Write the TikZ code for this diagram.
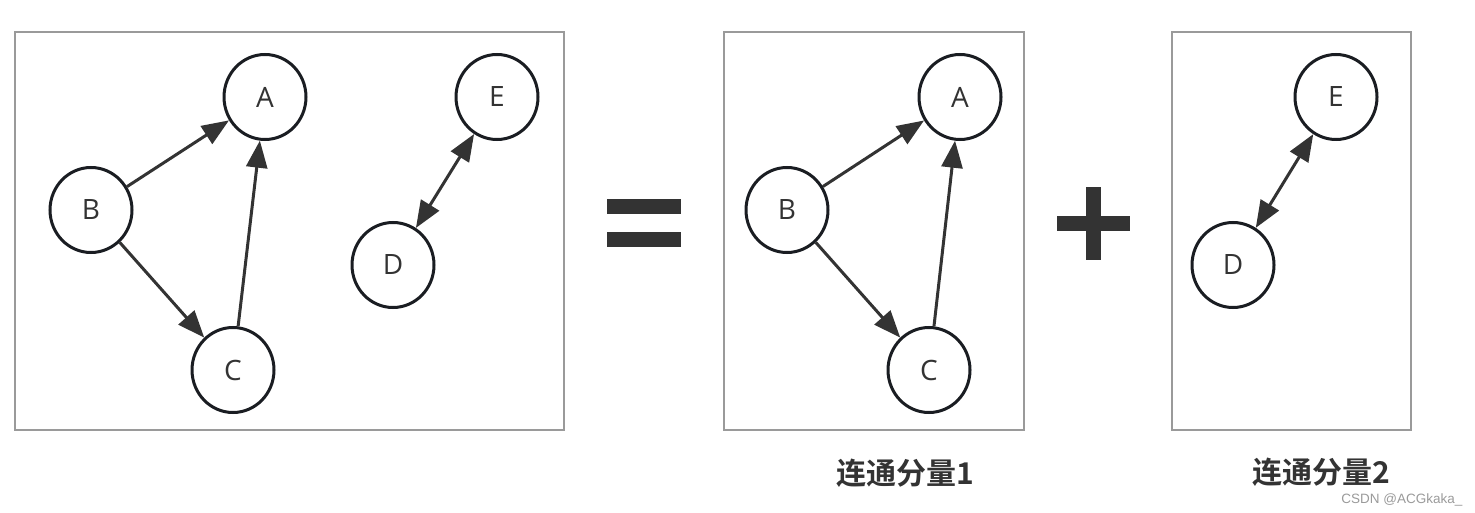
\documentclass[tikz,border=0pt]{standalone}
\usepackage{fontspec}
\setmainfont{Open Sans}
\newfontfamily\cjkbold{Noto Sans CJK SC Bold}
\newfontfamily\wmfont{Liberation Sans}
\usetikzlibrary{shapes.geometric,arrows.meta}
\definecolor{ink}{HTML}{333333}
\definecolor{rim}{HTML}{1A1D22}
\definecolor{frame}{HTML}{9A9A9A}
\begin{document}
\begin{tikzpicture}[x=1pt,y=-1pt,
  vert/.style={ellipse,draw=rim,line width=3pt,fill=white,minimum width=82pt,minimum height=85pt,inner sep=0pt,font=\fontsize{28}{32}\selectfont,text=ink},
  panel/.style={draw=frame,line width=1.8pt},
  link/.style={draw=ink,line width=3pt,-{Triangle[length=27pt,width=21pt]}},
  dlink/.style={draw=ink,line width=3pt,{Triangle[length=27pt,width=21pt]}-{Triangle[length=27pt,width=21pt]}},
  bar/.style={fill=ink,draw=none},
  caption/.style={font=\cjkbold\fontsize{30}{33}\selectfont,text=ink}
]
\useasboundingbox (0,0) rectangle (1475,513);
% panels
\draw[panel] (15,32) rectangle (564,430);
\draw[panel] (724,32) rectangle (1024,430);
\draw[panel] (1172,32) rectangle (1411,430);
% panel 1
\node[vert] (A1) at (265,97) {A};
\node[vert] (B1) at (91,210) {B};
\node[vert] (C1) at (233,370) {C};
\node[vert] (D1) at (393,265) {D};
\node[vert] (E1) at (497,97) {E};
\draw[link] (B1) -- (A1);
\draw[link] (B1) -- (C1);
\draw[link] (C1) -- (A1);
\draw[dlink] (D1) -- (E1);
% panel 2
\node[vert] (A2) at (960,97) {A};
\node[vert] (B2) at (787,210) {B};
\node[vert] (C2) at (929,370) {C};
\draw[link] (B2) -- (A2);
\draw[link] (B2) -- (C2);
\draw[link] (C2) -- (A2);
% panel 3
\node[vert] (E3) at (1336,97) {E};
\node[vert] (D3) at (1233,265) {D};
\draw[dlink] (D3) -- (E3);
% equals
\fill[bar] (607,199) rectangle (681,214);
\fill[bar] (607,232) rectangle (681,247);
% plus
\fill[bar] (1057,216) rectangle (1130,231);
\fill[bar] (1086,187) rectangle (1101,260);
% captions
\node[caption] (cap1) at (905,473) {连通分量1};
\node[caption] (cap2) at (1321,472) {连通分量2};
\node[font=\wmfont\fontsize{13.5}{15}\selectfont,text=frame,anchor=east] (wm) at (1466,500) {CSDN @ACGkaka\_};
\end{tikzpicture}
\end{document}
